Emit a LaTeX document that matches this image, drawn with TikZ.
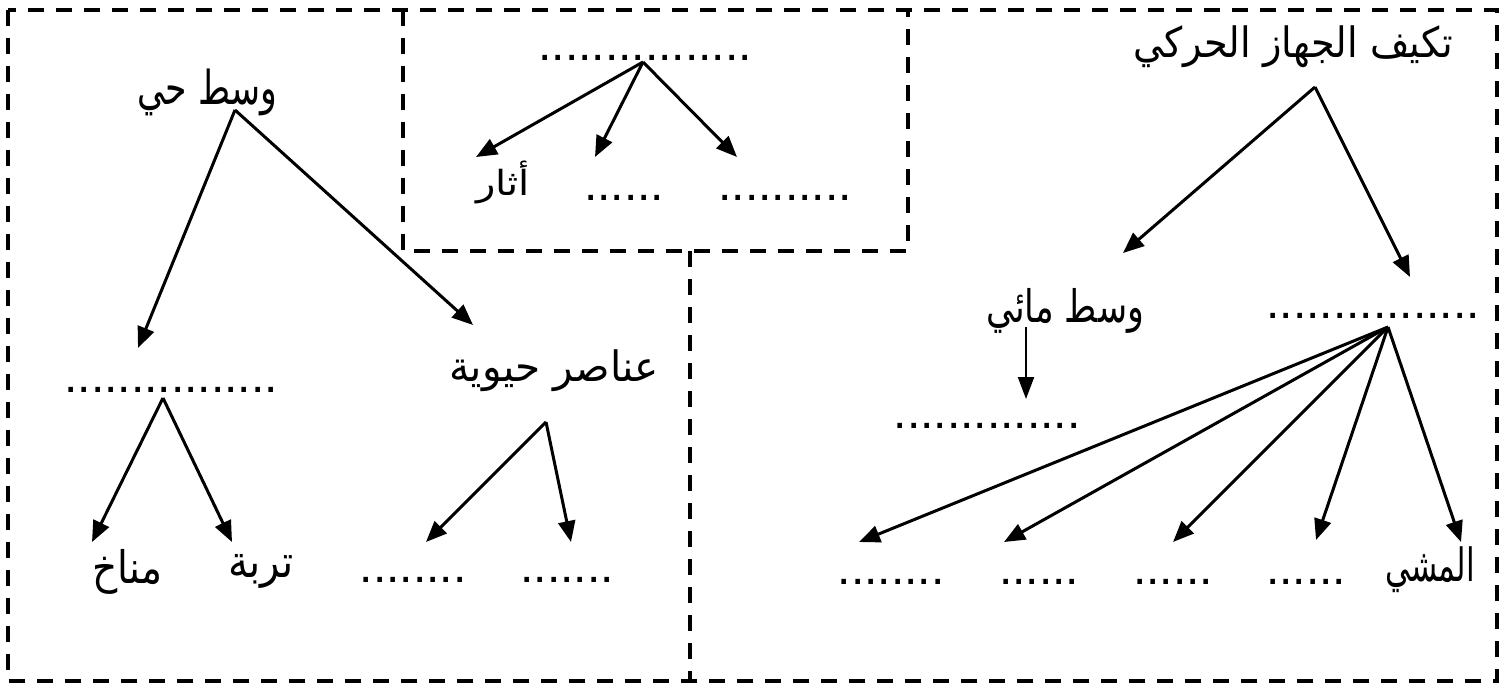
\documentclass[tikz,border=0pt]{standalone}
\usepackage{graphicx}
\usepackage{fontspec}
\setmainfont{Liberation Sans}
\newfontfamily\arabicfont[Script=Arabic]{DejaVu Sans}
\TeXXeTstate=1
\usetikzlibrary{arrows.meta}
\begin{document}
\begin{tikzpicture}[x=0.5pt,y=-0.5pt,
  dotsnode/.style={inner sep=0pt, font=\fontsize{24}{28}\selectfont},
  arnode/.style={inner sep=0pt, font=\arabicfont\fontsize{24}{28}\selectfont},
  arr/.style={line width=1.5pt, -{Triangle[length=10.5pt,width=8.5pt]}},
  thinarr/.style={line width=1.1pt, -{Triangle[length=11pt,width=8pt]}},
  frame/.style={line width=2pt, dash pattern=on 8pt off 6pt}]
\useasboundingbox (0,0) rectangle (1507,686);
% frames
\draw[frame] (8,10) rectangle (1497,681);
\draw[frame] (403,10) -- (403,251) -- (908,251) -- (908,10);
\draw[frame] (690,251) -- (690,681);
% ---------- left part ----------
\node[arnode] (wh) at (207,92) {\resizebox*{70pt}{23.5pt}{\beginR وسط حي\endR}};
\node[dotsnode] (ld) at (171,390) {................};
\node[arnode] (bio) at (554,371) {\resizebox*{105pt}{21pt}{\beginR عناصر حيوية\endR}};
\node[arnode] (clim) at (127,572) {\resizebox*{35pt}{22.5pt}{\beginR مناخ\endR}};
\node[arnode] (soil) at (261,571) {\resizebox*{33pt}{17pt}{\beginR تربة\endR}};
\node[dotsnode] (lb1) at (413,580) {........};
\node[dotsnode] (lb2) at (567,580) {.......};
\coordinate (whs) at (235,110);
\coordinate (ldt) at (138,348);
\coordinate (biot) at (473,325);
\coordinate (lds) at (163,398);
\coordinate (climt) at (92,542);
\coordinate (soilt) at (232,542);
\coordinate (bios) at (546,422);
\coordinate (lb1t) at (426,542);
\coordinate (lb2t) at (571,542);
\draw[arr] (whs) -- (ldt);
\draw[arr] (whs) -- (biot);
\draw[arr] (lds) -- (climt);
\draw[arr] (lds) -- (soilt);
\draw[arr] (bios) -- (lb1t);
\draw[arr] (bios) -- (lb2t);
% ---------- top box ----------
\node[dotsnode] (td) at (645,58) {................};
\node[arnode] (trace) at (503,182) {\resizebox*{27pt}{21.5pt}{\beginR أثار\endR}};
\node[dotsnode] (tb2) at (624,198) {......};
\node[dotsnode] (tb3) at (785,198) {..........};
\coordinate (tds) at (643,62);
\coordinate (tracet) at (476,157);
\coordinate (tb2t) at (595,157);
\coordinate (tb3t) at (737,157);
\draw[arr] (tds) -- (tracet);
\draw[arr] (tds) -- (tb2t);
\draw[arr] (tds) -- (tb3t);
% ---------- right part ----------
\node[arnode] (mot) at (1293,47) {\resizebox*{160pt}{21pt}{\beginR تكيف الجهاز الحركي\endR}};
\node[arnode] (water) at (1065,311) {\resizebox*{79pt}{22.5pt}{\beginR وسط مائي\endR}};
\node[dotsnode] (rd) at (1373,316) {................};
\node[dotsnode] (wd) at (987,426) {..............};
\node[dotsnode] (rb1) at (891,582) {........};
\node[dotsnode] (rb2) at (1039,582) {......};
\node[dotsnode] (rb3) at (1173,582) {......};
\node[dotsnode] (rb4) at (1306,582) {......};
\node[arnode] (walk) at (1430,570) {\resizebox*{45pt}{23pt}{\beginR المشي\endR}};
\coordinate (mots) at (1315,87);
\coordinate (watert) at (1123,253);
\coordinate (rdt) at (1410,277);
\coordinate (waters) at (1026,327);
\coordinate (wdt) at (1026,399);
\coordinate (rds) at (1388,327);
\coordinate (rb1t) at (859,542);
\coordinate (rb2t) at (1004,542);
\coordinate (rb3t) at (1173,542);
\coordinate (rb4t) at (1316,540);
\coordinate (walkt) at (1461,542);
\draw[arr] (mots) -- (watert);
\draw[arr] (mots) -- (rdt);
\draw[thinarr] (waters) -- (wdt);
\draw[arr] (rds) -- (rb1t);
\draw[arr] (rds) -- (rb2t);
\draw[arr] (rds) -- (rb3t);
\draw[arr] (rds) -- (rb4t);
\draw[arr] (rds) -- (walkt);
\end{tikzpicture}
\end{document}
